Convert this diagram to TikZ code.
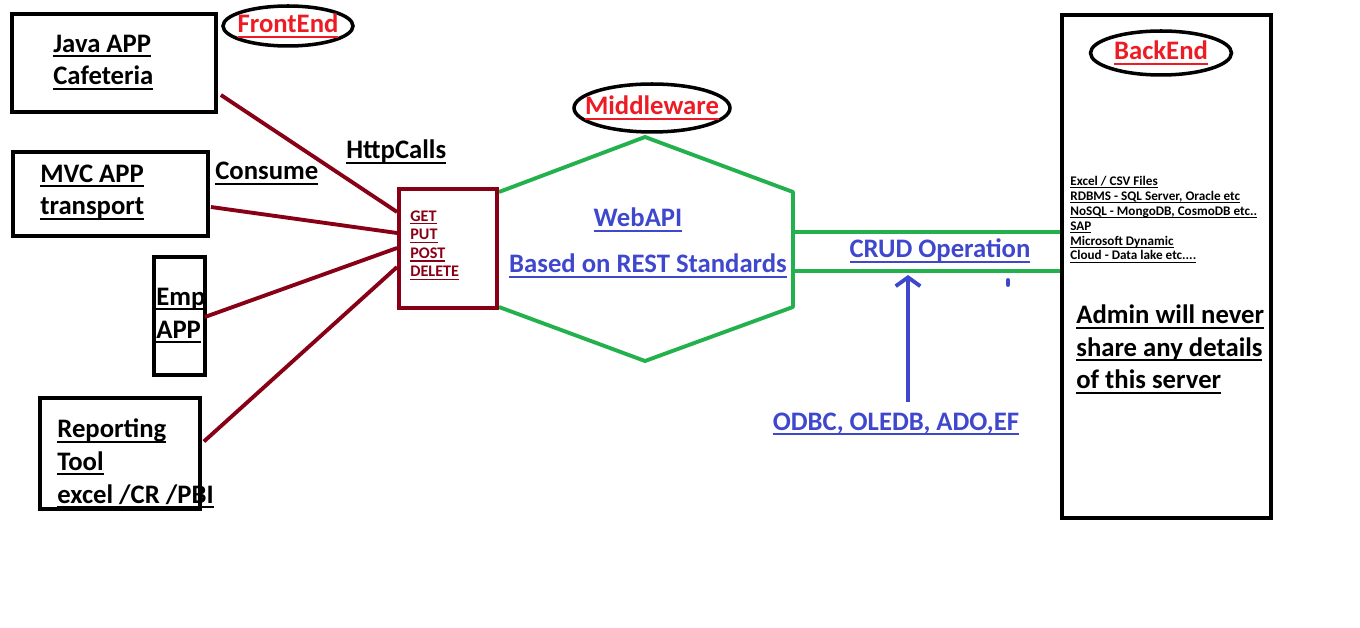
\documentclass[tikz,border=0pt]{standalone}
\usepackage{fontspec}
\setmainfont{Carlito}
\usepackage{tikz}
\usetikzlibrary{calc}
\usetikzlibrary{positioning, shapes.geometric}
\usetikzlibrary{arrows.meta}

\definecolor{maroon}{RGB}{136,0,21}
\definecolor{paintred}{RGB}{237,28,36}
\definecolor{paintgreen}{RGB}{34,177,76}
\definecolor{paintblue}{RGB}{63,72,204}

% underline at a fixed depth, like the paint program does
\newcommand{\undl}[1]{\setbox0\hbox{#1}\rlap{\rule[-0.2em]{\wd0}{0.075em}}\box0}
\newcommand{\bigtxt}{\bfseries\fontsize{15.2}{18.7}\selectfont}
\newcommand{\smalltxt}{\bfseries\fontsize{9.2}{10.6}\selectfont}
\newcommand{\tinytxt}{\bfseries\fontsize{7.5}{8.5}\selectfont}

\begin{document}
\begin{tikzpicture}[
    x=0.02cm, y=-0.02cm,
    box/.style={draw=black, line width=2.2pt, inner sep=0pt},
    verbbox/.style={box, draw=maroon},
    tag/.style={ellipse, draw=black, line width=2pt, inner sep=0pt},
    tagtxt/.style={inner sep=0pt, font=\bigtxt, text=paintred},
    txt/.style={anchor=base west, inner sep=0pt, align=left, font=\bigtxt},
    wire/.style={maroon, line width=2.2pt},
    bus/.style={paintgreen, line width=2.2pt, line join=round}
]
    \useasboundingbox (0,0) rectangle (1360,628);

    % --- FrontEnd apps (text nodes sit on the baseline of their last line)
    \node[box, minimum width=4.08cm, minimum height=1.96cm] (java)   at (114,63)    {};
    \node[box, minimum width=3.9cm,  minimum height=1.68cm] (mvc)    at (110.5,194) {};
    \node[box, minimum width=1.02cm, minimum height=2.36cm] (emp)    at (179.5,316) {};
    \node[box, minimum width=3.2cm,  minimum height=2.22cm] (report) at (120,453.5) {};
    \node[tag, minimum width=2.6cm, minimum height=0.8cm] (front)  at (288,26) {};
    \node[tagtxt] (fronttxt) at (front) {\undl{FrontEnd}};

    \node[txt] (javatxt)   at (53,85)  {\undl{Java APP}\\\undl{Cafeteria}};
    \node[txt] (mvctxt)    at (40,215) {\undl{MVC APP}\\\undl{transport}};
    \node[txt] (emptxt)    at (156,338) {\undl{Emp}\\\undl{APP}};
    \node[txt] (reporttxt) at (57,503) {\undl{Reporting}\\\undl{Tool}\\\undl{excel /CR /PBI}};
    \node[txt] (consume)   at (215,180) {\undl{Consume}};
    \node[txt] (httpcalls) at (346,159) {\undl{HttpCalls}};

    % --- Middleware
    \coordinate (hexW1) at (499,192);
    \coordinate (hexN)  at (645,137);
    \coordinate (hexE1) at (793,192);
    \coordinate (hexE2) at (793,307);
    \coordinate (hexS)  at (645,361);
    \coordinate (hexW2) at (499,307);
    \draw[bus] (hexW1) -- (hexN) -- (hexE1) -- (hexE2) -- (hexS) -- (hexW2);

    \node[verbbox, minimum width=1.96cm, minimum height=2.38cm] (verbs) at (448,248.5) {};
    \node[txt, font=\smalltxt, text=maroon, align=left] (verbtxt) at (410,277)
        {\undl{GET}\\\undl{PUT}\\\undl{POST}\\\undl{DELETE}};
    \node[tag, minimum width=3.12cm, minimum height=0.96cm] (middle) at (652,108) {};
    \node[tagtxt] (middletxt) at (middle) {\undl{Middleware}};

    \node[txt, anchor=base, text=paintblue] (webapi) at (638,227) {\undl{WebAPI}};
    \node[txt, anchor=base, text=paintblue] (rest)   at (648,273) {\undl{Based on REST Standards}};

    % --- BackEnd
    \node[box, minimum width=4.18cm, minimum height=10.06cm] (backend) at (1166.5,266.5) {};
    \node[tag, minimum width=2.82cm, minimum height=0.88cm] (backtag) at (1161,53) {};
    \node[tagtxt] (backtxt) at (backtag) {\undl{BackEnd}};
    \node[txt, font=\tinytxt] (sources) at (1070,260)
        {\undl{Excel / CSV Files}\\\undl{RDBMS - SQL Server, Oracle etc}\\\undl{NoSQL - MongoDB, CosmoDB etc..}\\
         \undl{SAP}\\\undl{Microsoft Dynamic}\\\undl{Cloud - Data lake etc....}};
    \node[txt] (admin) at (1076,389) {\undl{Admin will never}\\\undl{share any details}\\\undl{of this server}};

    % --- CRUD
    \coordinate (crudtop) at (793,232);
    \coordinate (crudbot) at (793,271);
    \draw[bus] (crudtop) -- (crudtop -| backend.west);
    \draw[bus] (crudbot) -- (crudbot -| backend.west);
    \node[txt, anchor=base, text=paintblue] (crud) at (940,258) {\undl{CRUD Operation}};
    \node[txt, anchor=base, text=paintblue] (odbc) at (896,430) {\undl{ODBC, OLEDB, ADO,EF}};
    \coordinate (crudin) at (908,275);
    \draw[paintblue, line width=2.2pt, -{Straight Barb[length=5pt, width=14pt]}]
        (crudin |- 0,402) -- (crudin);
    \draw[paintblue, line width=2.2pt, line cap=round] (1008,280) -- (1008,285);

    % --- calls into the verbs box
    \draw[wire] ($(java.east)+(3,32)$)   -- ($(verbs.west)+(0,-36.5)$);
    \draw[wire] ($(mvc.east)+(1,13)$)    -- ($(verbs.west)+(0,-15.5)$);
    \draw[wire] ($(emp.east)+(-2,1)$)    -- ($(verbs.west)+(0,-0.5)$);
    \draw[wire] ($(report.east)+(2,-12)$) -- ($(verbs.west)+(0,18.5)$);

\end{tikzpicture}
\end{document}
